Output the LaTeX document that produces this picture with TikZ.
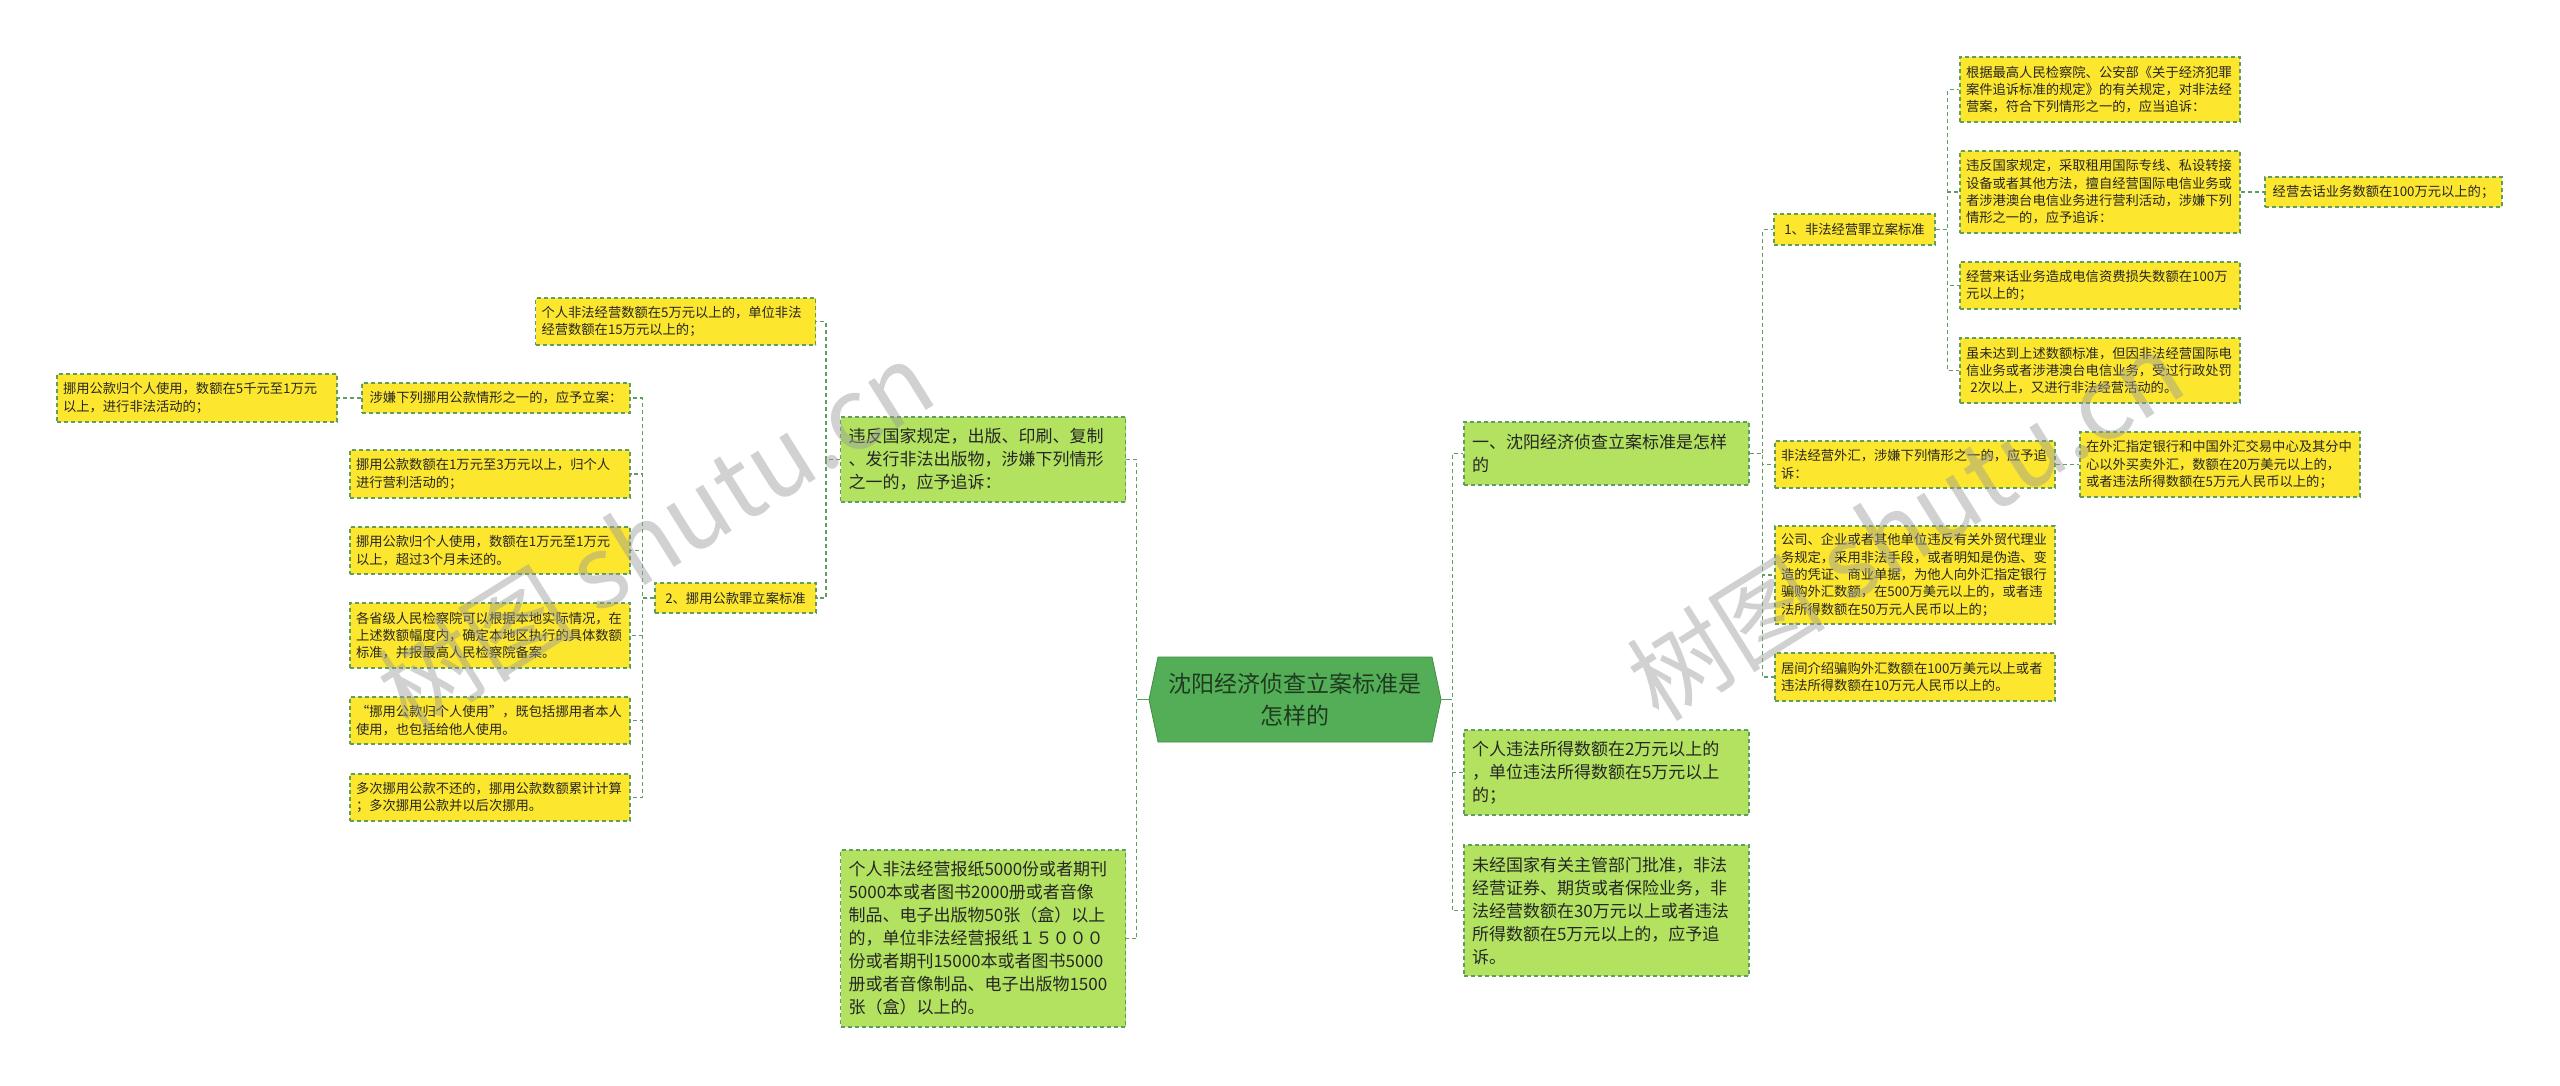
\documentclass[tikz,border=0pt]{standalone}
\usepackage{fontspec}
\setmainfont{Noto Sans CJK SC}
\usepackage{tikz}
\usetikzlibrary{positioning, shapes.symbols}

\definecolor{ylfill}{HTML}{FDE72E}
\definecolor{grfill}{HTML}{B2E260}
\definecolor{rtfill}{HTML}{53AE57}
\definecolor{rttext}{HTML}{1F3B1F}
\definecolor{lnk}{HTML}{5E9E5E}

\begin{document}
\begin{tikzpicture}[
    x=1pt, y=-1pt,
    box/.style={
        draw=lnk, dash pattern=on 4pt off 3pt, line width=1.2pt,
        align=left, inner xsep=6pt, inner ysep=4pt, text=black!85
    },
    ybox/.style={box, fill=ylfill, font=\fontsize{13.3}{17.3}\selectfont},
    ywide/.style={ybox, text width=268pt},
    gbox/.style={box, fill=grfill, font=\fontsize{17}{23}\selectfont, inner xsep=8pt, text width=269pt},
    rootbox/.style={
        shape=signal, signal to=west and east, signal pointer angle=156,
        fill=rtfill, draw=rtfill!80!black, line width=0.8pt, align=center,
        minimum width=292pt, minimum height=85pt, inner sep=2pt,
        font=\fontsize{23}{32}\selectfont, text=rttext
    },
    link/.style={draw=lnk, line width=1.2pt, dash pattern=on 4pt off 3pt},
    stem/.style={draw=lnk, line width=1.6pt},
    mark text/.style={font=\fontsize{100}{100}\selectfont, text=black!40, text opacity=0.45, rotate=32},
]
\useasboundingbox (0,0) rectangle (2560,1085);

% Root
\node[rootbox] (root) at (1295,699.5) {沈阳经济侦查立案标准是\\怎样的};

% Right branches
\node[gbox, minimum height=63pt] (g1) at (1606.5,453.5) {一、沈阳经济侦查立案标准是怎样\\的};
\node[gbox, minimum height=85pt] (g2) at (1606.5,772.5) {个人违法所得数额在2万元以上的\\，单位违法所得数额在5万元以上\\的；};
\node[gbox, minimum height=131pt] (g3) at (1606.5,910.5) {未经国家有关主管部门批准，非法\\经营证券、期货或者保险业务，非\\法经营数额在30万元以上或者违法\\所得数额在5万元以上的，应予追\\诉。};

% Left branches
\node[gbox, minimum height=85pt] (g4) at (983,459.5) {违反国家规定，出版、印刷、复制\\、发行非法出版物，涉嫌下列情形\\之一的，应予追诉：};
\node[gbox, minimum height=177pt] (g5) at (983,938.5) {个人非法经营报纸5000份或者期刊\\5000本或者图书2000册或者音像\\制品、电子出版物50张（盒）以上\\的，单位非法经营报纸１５０００\\份或者期刊15000本或者图书5000\\册或者音像制品、电子出版物1500\\张（盒）以上的。};

% 1、非法经营罪
\node[ybox, minimum width=161pt, minimum height=31pt] (n1) at (1854.5,229.5) {1、非法经营罪立案标准};
\node[ywide, minimum height=65pt] (a1) at (2100,89.5) {根据最高人民检察院、公安部《关于经济犯罪\\案件追诉标准的规定》的有关规定，对非法经\\营案，符合下列情形之一的，应当追诉：};
\node[ywide, minimum height=82pt] (a2) at (2100,192) {违反国家规定，采取租用国际专线、私设转接\\设备或者其他方法，擅自经营国际电信业务或\\者涉港澳台电信业务进行营利活动，涉嫌下列\\情形之一的，应予追诉：};
\node[ywide, minimum height=47pt] (a3) at (2100,285.5) {经营来话业务造成电信资费损失数额在100万\\元以上的；};
\node[ywide, minimum height=65pt] (a4) at (2100,370.5) {虽未达到上述数额标准，但因非法经营国际电\\信业务或者涉港澳台电信业务，受过行政处罚\\~2次以上，又进行非法经营活动的。};
\node[ybox, minimum width=237pt, minimum height=30pt] (a2c) at (2383.5,192) {经营去话业务数额在100万元以上的；};

% 外汇
\node[ywide, minimum height=47pt] (fx) at (1915,464.5) {非法经营外汇，涉嫌下列情形之一的，应予追\\诉：};
\node[ywide, minimum height=65pt] (fxc) at (2220,464.5) {在外汇指定银行和中国外汇交易中心及其分中\\心以外买卖外汇，数额在20万美元以上的，\\或者违法所得数额在5万元人民币以上的；};
\node[ywide, minimum height=98pt] (gs) at (1915,575) {公司、企业或者其他单位违反有关外贸代理业\\务规定，采用非法手段，或者明知是伪造、变\\造的凭证、商业单据，为他人向外汇指定银行\\骗购外汇数额，在500万美元以上的，或者违\\法所得数额在50万元人民币以上的；};
\node[ywide, minimum height=48pt] (jj) at (1915,677) {居间介绍骗购外汇数额在100万美元以上或者\\违法所得数额在10万元人民币以上的。};

% 出版物 / 挪用公款
\node[ywide, minimum height=47pt] (gr) at (675.5,321.5) {个人非法经营数额在5万元以上的，单位非法\\经营数额在15万元以上的；};
\node[ybox, minimum width=161pt, minimum height=30pt] (n2) at (735.5,598) {2、挪用公款罪立案标准};
\node[ybox, minimum width=268pt, minimum height=30pt] (sx) at (496,398) {涉嫌下列挪用公款情形之一的，应予立案：};
\node[ywide, minimum height=48pt] (sxc) at (197,398) {挪用公款归个人使用，数额在5千元至1万元\\以上，进行非法活动的；};
\node[ywide, minimum height=48pt] (l2) at (490,474) {挪用公款数额在1万元至3万元以上，归个人\\进行营利活动的；};
\node[ywide, minimum height=47pt] (l3) at (490,550.5) {挪用公款归个人使用，数额在1万元至1万元\\以上，超过3个月未还的。};
\node[ywide, minimum height=65pt] (l4) at (490,635.5) {各省级人民检察院可以根据本地实际情况，在\\上述数额幅度内，确定本地区执行的具体数额\\标准，并报最高人民检察院备案。};
\node[ywide, minimum height=47pt] (l5) at (490,720.5) {“挪用公款归个人使用”，既包括挪用者本人\\使用，也包括给他人使用。};
\node[ywide, minimum height=47pt] (l6) at (490,797.5) {多次挪用公款不还的，挪用公款数额累计计算\\；多次挪用公款并以后次挪用。};

% Root -> branches
\draw[link] (root.west) -- ++(-12,0) |- (g4.east);
\draw[link] (root.west) -- ++(-12,0) |- (g5.east);
\draw[link] (root.east) -- ++(11,0) |- (g1.west);
\draw[link] (root.east) -- ++(11,0) |- (g2.west);
\draw[link] (root.east) -- ++(11,0) |- (g3.west);
\draw[stem] (root.west) -- ++(-12,0);
\draw[stem] (root.east) -- ++(11,0);

% g1 -> children
\draw[link] (g1.east) -- ++(13,0) |- (n1.west);
\draw[link] (g1.east) -- ++(13,0) |- (fx.west);
\draw[link] (g1.east) -- ++(13,0) |- (gs.west);
\draw[link] (g1.east) -- ++(13,0) |- (jj.west);

% n1 -> children
\draw[link] (n1.east) -- ++(12,0) |- (a1.west);
\draw[link] (n1.east) -- ++(12,0) |- (a2.west);
\draw[link] (n1.east) -- ++(12,0) |- (a3.west);
\draw[link] (n1.east) -- ++(12,0) |- (a4.west);
\draw[link] (a2) -- (a2c);
\draw[link] (fx) -- (fxc);

% g4 -> children
\draw[link] (g4.west) -- ++(-14,0) |- (gr.east);
\draw[link] (g4.west) -- ++(-14,0) |- (n2.east);

% n2 -> children
\draw[link] (n2.west) -- ++(-12,0) |- (sx.east);
\draw[link] (n2.west) -- ++(-12,0) |- (l2.east);
\draw[link] (n2.west) -- ++(-12,0) |- (l3.east);
\draw[link] (n2.west) -- ++(-12,0) |- (l4.east);
\draw[link] (n2.west) -- ++(-12,0) |- (l5.east);
\draw[link] (n2.west) -- ++(-12,0) |- (l6.east);
\draw[link] (sx) -- (sxc);

% Watermarks
\node[mark text] (wm1) at (655,535) {树图 shutu.cn};
\node[mark text] (wm2) at (1905,525) {树图 shutu.cn};

\end{tikzpicture}
\end{document}
